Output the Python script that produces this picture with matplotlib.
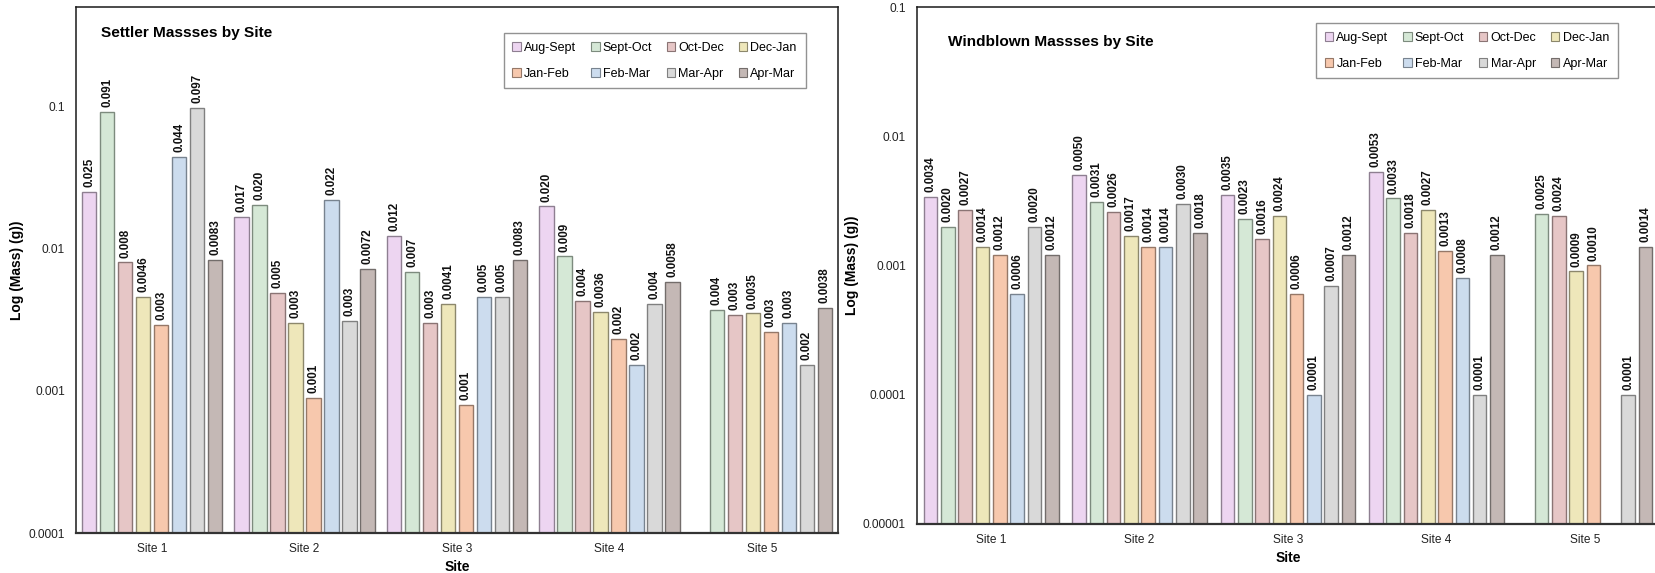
import numpy as np
import matplotlib
matplotlib.use("Agg")
import matplotlib.pyplot as plt
from matplotlib.patches import Patch
from matplotlib.ticker import FixedLocator, FixedFormatter, NullLocator

plt.rcParams["font.family"] = ["Liberation Sans", "DejaVu Sans"]

nan = np.nan

sites = ["Site 1", "Site 2", "Site 3", "Site 4", "Site 5"]
periods = ["Aug-Sept", "Sept-Oct", "Oct-Dec", "Dec-Jan",
           "Jan-Feb", "Feb-Mar", "Mar-Apr", "Apr-Mar"]

# Settler masses (g), one list per sampling period, ordered by site
settler_aug_sept = [0.025, 0.0166, 0.0122, 0.0198, nan]
settler_sept_oct = [0.091, 0.0203, 0.0069, 0.0088, 0.0037]
settler_oct_dec = [0.0080, 0.0049, 0.0030, 0.0043, 0.0034]
settler_dec_jan = [0.0046, 0.0030, 0.0041, 0.0036, 0.0035]
settler_jan_feb = [0.0029, 0.00089, 0.00079, 0.0023, 0.0026]
settler_feb_mar = [0.044, 0.022, 0.0046, 0.00152, 0.0030]
settler_mar_apr = [0.097, 0.0031, 0.0046, 0.0041, 0.00152]
settler_apr_mar = [0.0083, 0.0072, 0.0083, 0.0058, 0.0038]

# decimals shown in each settler value label
settler_decimals = [
    [3, 3, 3, 3, 3],
    [3, 3, 3, 3, 3],
    [3, 3, 3, 3, 3],
    [4, 3, 4, 4, 4],
    [3, 3, 3, 3, 3],
    [3, 3, 3, 3, 3],
    [3, 3, 3, 3, 3],
    [4, 4, 4, 4, 4],
]

# Windblown masses (g)
wind_aug_sept = [0.0034, 0.0050, 0.0035, 0.0053, nan]
wind_sept_oct = [0.0020, 0.0031, 0.0023, 0.0033, 0.0025]
wind_oct_dec = [0.0027, 0.0026, 0.0016, 0.0018, 0.0024]
wind_dec_jan = [0.0014, 0.0017, 0.0024, 0.0027, 0.0009]
wind_jan_feb = [0.0012, 0.0014, 0.0006, 0.0013, 0.0010]
wind_feb_mar = [0.0006, 0.0014, 0.0001, 0.0008, nan]
wind_mar_apr = [0.0020, 0.0030, 0.0007, 0.0001, 0.0001]
wind_apr_mar = [0.0012, 0.0018, 0.0012, 0.0012, 0.0014]
wind_decimals = [[4] * 5 for _ in range(8)]

settler_ticks = [0.0001, 0.001, 0.01, 0.1]
settler_ticklabels = ["0.0001", "0.001", "0.01", "0.1"]
wind_ticks = [0.00001, 0.0001, 0.001, 0.01, 0.1]
wind_ticklabels = ["0.00001", "0.0001", "0.001", "0.01", "0.1"]

settler = [settler_aug_sept, settler_sept_oct, settler_oct_dec, settler_dec_jan,
           settler_jan_feb, settler_feb_mar, settler_mar_apr, settler_apr_mar]
windblown = [wind_aug_sept, wind_sept_oct, wind_oct_dec, wind_dec_jan,
             wind_jan_feb, wind_feb_mar, wind_mar_apr, wind_apr_mar]

face_colors = ["#EDD5F1", "#D5E8D6", "#E6C6C6", "#EEE7BA",
               "#F7C8AD", "#CCDCEE", "#D9D9D9", "#C4B8B5"]
edge_colors = ["#8E7F91", "#7D8B7E", "#8A7474", "#8C876C",
               "#957868", "#78838F", "#808080", "#736D6B"]

W, H = 1656, 573
fig = plt.figure(figsize=(W / 100, H / 100), dpi=100)


def px_axes(left, top, right, bottom):
    return fig.add_axes([left / W, 1 - bottom / H, (right - left) / W, (bottom - top) / H])


def draw_panel(ax, data, decimals, ylim, ticks, ticklabels, title, title_xy,
               legend_anchor, step, width):
    x = np.arange(len(sites))
    for i, (vals, dec) in enumerate(zip(data, decimals)):
        vals = np.asarray(vals, dtype=float)
        xpos = x + (i - 3.5) * step
        ok = ~np.isnan(vals)
        ax.bar(xpos[ok], vals[ok], width=width, bottom=1e-9,
               color=face_colors[i], edgecolor=edge_colors[i], linewidth=1.0,
               label=periods[i], zorder=2)
        for xp, v, d in zip(xpos, vals, dec):
            if np.isnan(v):
                continue
            ax.annotate(f"{v:.{d}f}", (xp, v), xytext=(0, 3.5),
                        textcoords="offset points", rotation=90,
                        ha="center", va="bottom", fontsize=8.4,
                        fontweight="bold", color="#111111")
    ax.set_yscale("log")
    ax.set_ylim(*ylim)
    ax.set_xlim(-0.5, len(sites) - 0.5)
    ax.yaxis.set_major_locator(FixedLocator(ticks))
    ax.yaxis.set_major_formatter(FixedFormatter(ticklabels))
    ax.yaxis.set_minor_locator(NullLocator())
    ax.set_xticks(x)
    ax.set_xticklabels(sites)
    ax.tick_params(axis="both", length=0, labelsize=8.6, colors="#222222")
    ax.tick_params(axis="y", pad=8)
    ax.tick_params(axis="x", pad=7)
    for s in ax.spines.values():
        s.set_color("#1a1a1a")
        s.set_linewidth(1.1)
    ax.spines["bottom"].set_linewidth(1.6)
    ax.spines["bottom"].set_color("#333333")
    ax.set_xlabel("Site", fontsize=10, fontweight="bold", labelpad=4)
    ax.set_ylabel("Log (Mass) (g))", fontsize=10, fontweight="bold", labelpad=3)
    ax.text(title_xy[0], title_xy[1], title, transform=ax.transAxes,
            fontsize=11.1, fontweight="bold", ha="left", va="center")
    handles = [Patch(facecolor=face_colors[i], edgecolor=edge_colors[i],
                     linewidth=0.8, label=periods[i]) for i in range(len(periods))]
    # legend fills column by column; reorder so the periods read across rows
    ncol = 4
    nrow = len(handles) // ncol
    ordered = [handles[r * ncol + c] for c in range(ncol) for r in range(nrow)]
    leg = ax.legend(handles=ordered, ncol=ncol, loc="upper left",
                    bbox_to_anchor=legend_anchor, fontsize=9,
                    handlelength=0.7, handleheight=0.7, handletextpad=0.25,
                    columnspacing=1.15, labelspacing=1.1, borderpad=0.7,
                    frameon=True, fancybox=False)
    leg.get_frame().set_edgecolor("#777777")
    leg.get_frame().set_linewidth(1.0)


ax1 = px_axes(76, 7, 838, 533)
draw_panel(ax1, settler, settler_decimals, (1e-4, 0.5), settler_ticks,
           settler_ticklabels, "Settler Massses by Site", (0.033, 0.951),
           (0.553, 0.962), 0.118, 0.095)

ax2 = px_axes(917, 7, 1659, 524)
draw_panel(ax2, windblown, wind_decimals, (1e-5, 0.1), wind_ticks,
           wind_ticklabels, "Windblown Massses by Site", (0.042, 0.932),
           (0.529, 0.981), 0.1166, 0.092)

fig.savefig("out.png", dpi=100)
